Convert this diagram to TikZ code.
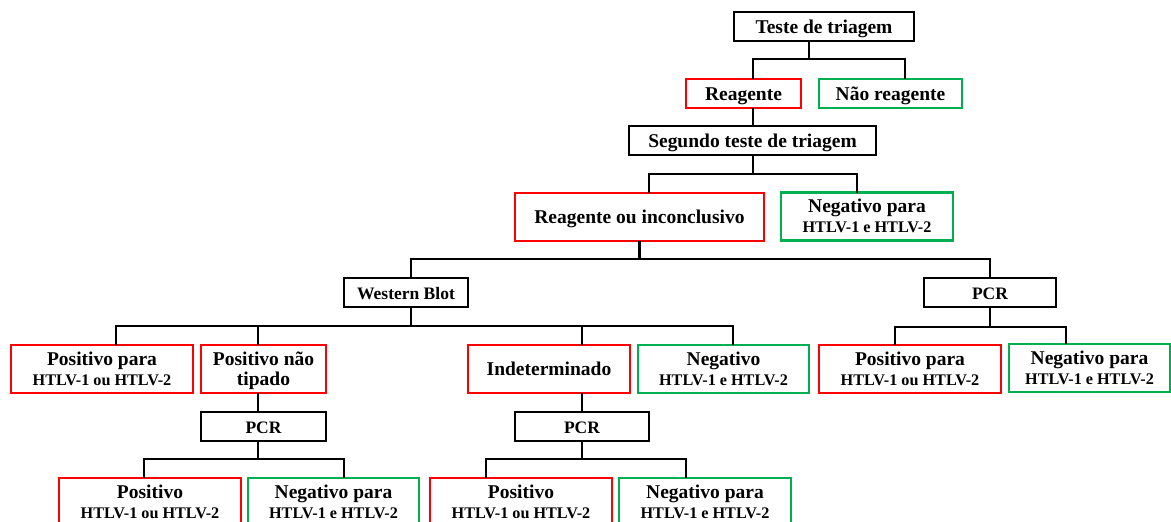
\documentclass[tikz,border=0pt]{standalone}
\usepackage{fontspec}
\setmainfont{Liberation Serif}
\definecolor{posred}{RGB}{255,0,0}
\definecolor{neggreen}{RGB}{0,176,80}
\newcommand{\subline}[1]{{\fontsize{16.2}{20}\selectfont #1}}
\tikzset{
  box/.style={draw, line width=2.4pt, inner sep=0pt, outer sep=0pt, align=center,
    minimum height=48pt, font=\bfseries\fontsize{19.5}{20}\selectfont},
  oneline/.style={text height=15.2pt, text depth=2pt},
  twoline/.style={text height=35.5pt, text depth=3.5pt},
  testbox/.style={box, oneline, draw=black, minimum height=29pt},
  posbox/.style={box, draw=posred},
  negbox/.style={box, draw=neggreen},
  smalltest/.style={font=\bfseries\fontsize{17.5}{20}\selectfont},
  link/.style={line width=2.4pt, draw=black}
}
\begin{document}
\begin{tikzpicture}[x=1pt,y=-1pt]
  \useasboundingbox (0,0) rectangle (1171,522);
  \clip (0,0) rectangle (1171,522);

  % screening stages
  \node[testbox, minimum width=180pt] (t1) at (824,26.5) {Teste de triagem};
  \node[posbox, oneline, minimum width=115pt, minimum height=29pt] (r1) at (743.5,93.5) {Reagente};
  \node[negbox, oneline, minimum width=143pt, minimum height=29pt] (n1) at (890.5,93.5) {Não reagente};
  \node[testbox, minimum width=247pt] (t2) at (752.5,140.5) {Segundo teste de triagem};
  \node[posbox, oneline, minimum width=249pt] (r2) at (639.5,217) {Reagente ou inconclusivo};
  \node[negbox, twoline, minimum width=172pt] (n2) at (867,216.5) {Negativo para\\\subline{HTLV-1 e HTLV-2}};

  % confirmatory tests
  \node[testbox, smalltest, minimum width=124pt] (wb) at (406,292.5) {Western Blot};
  \node[testbox, smalltest, minimum width=132pt] (pcrR) at (990,292.5) {PCR};

  \node[posbox, twoline, minimum width=182pt] (p1) at (102,369) {Positivo para\\\subline{HTLV-1 ou HTLV-2}};
  \node[posbox, twoline, minimum width=125pt] (p2) at (263.5,369) {Positivo não\\tipado};
  \node[posbox, oneline, minimum width=162pt] (ind) at (549,369) {Indeterminado};
  \node[negbox, twoline, minimum width=171pt] (neg1) at (723.5,369) {Negativo\\\subline{HTLV-1 e HTLV-2}};
  \node[posbox, twoline, minimum width=182pt] (pR) at (910,369) {Positivo para\\\subline{HTLV-1 ou HTLV-2}};
  \node[negbox, twoline, minimum width=161pt] (nR) at (1089.5,368) {Negativo para\\\subline{HTLV-1 e HTLV-2}};

  \node[testbox, smalltest, minimum width=125pt] (pcrL) at (263.5,426.5) {PCR};
  \node[testbox, smalltest, minimum width=134pt] (pcrM) at (582,426.5) {PCR};

  \node[posbox, twoline, minimum width=182pt] (bL1) at (150,502) {Positivo\\\subline{HTLV-1 ou HTLV-2}};
  \node[negbox, twoline, minimum width=171pt] (bL2) at (333.5,502) {Negativo para\\\subline{HTLV-1 e HTLV-2}};
  \node[posbox, twoline, minimum width=182pt] (bM1) at (521,502) {Positivo\\\subline{HTLV-1 ou HTLV-2}};
  \node[negbox, twoline, minimum width=172pt] (bM2) at (705,502) {Negativo para\\\subline{HTLV-1 e HTLV-2}};

  % connectors
  \draw[link] ([xshift=-15]t1.south) -- ++(0,18);
  \draw[link] ([xshift=9.5]r1.north) -- ++(0,-20) -| ([xshift=14.5]n1.north);
  \draw[link] ([xshift=9.5]r1.south) -- ([xshift=9.5]r1.south |- t2.north);

  \draw[link] ([xshift=0.5]t2.south) -- ++(0,19);
  \draw[link] ([xshift=9.5]r2.north) -- ++(0,-19) -| ([xshift=-10]n2.north);

  \draw[link] (r2.south) -- ++(0,18);
  \draw[link] ([xshift=5]wb.north) -- ++(0,-19) -| (pcrR.north);

  \draw[link] ([xshift=5]wb.south) -- ++(0,19);
  \draw[link] ([xshift=14]p1.north) -- ++(0,-19) -| ([xshift=9.5]neg1.north);
  \draw[link] ([xshift=-5.5]p2.north) -- ++(0,-19);
  \draw[link] ([xshift=33]ind.north) -- ++(0,-19);

  \draw[link] (pcrR.south) -- ++(0,20);
  \draw[link] ([xshift=-15]pR.north) -- ++(0,-18) -| ([xshift=-23.5]nR.north);

  \draw[link] ([xshift=-5.5]p2.south) -- ([xshift=-5.5]p2.south |- pcrL.north);
  \draw[link] ([xshift=-5.5]pcrL.south) -- ++(0,18);
  \draw[link] ([xshift=-6]bL1.north) -- ++(0,-19) -| ([xshift=10.5]bL2.north);

  \draw[link] ([xshift=33]ind.south) -- ([xshift=33]ind.south |- pcrM.north);
  \draw[link] (pcrM.south) -- ++(0,18);
  \draw[link] ([xshift=-35]bM1.north) -- ++(0,-19) -| ([xshift=-19]bM2.north);
\end{tikzpicture}
\end{document}
